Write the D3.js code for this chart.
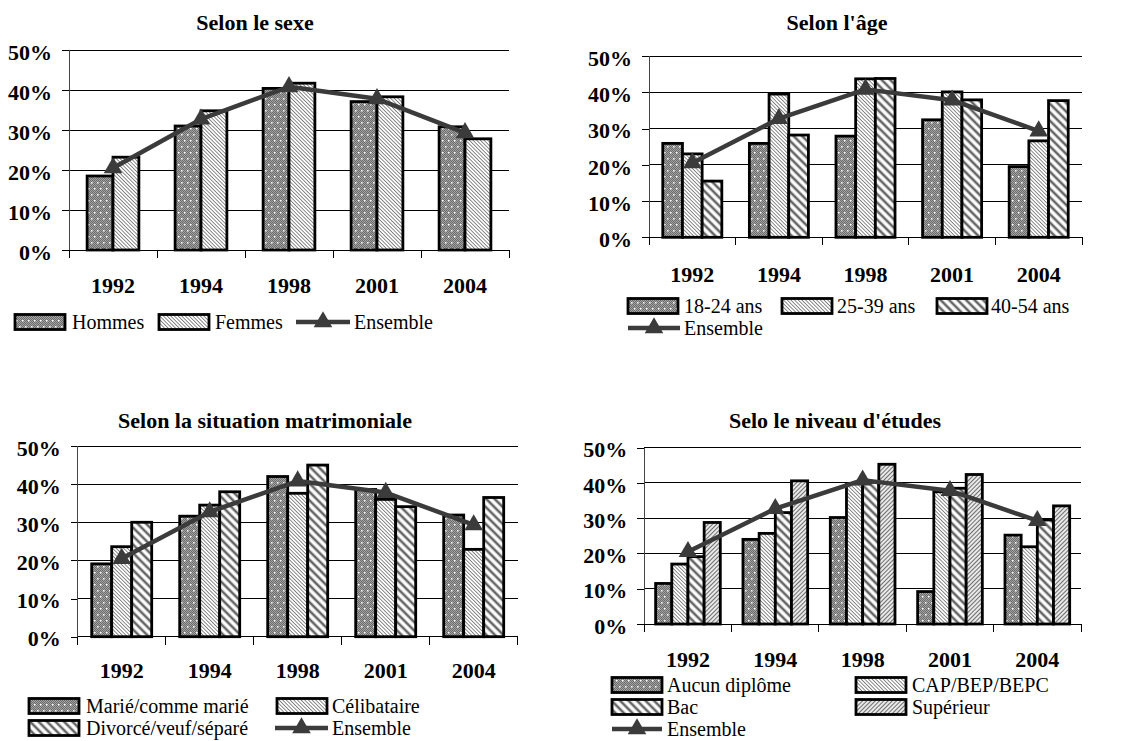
<!DOCTYPE html>
<html><head><meta charset="utf-8">
<script src="https://cdn.jsdelivr.net/npm/d3@7"></script>
<style>
body{margin:0;background:#fff}
svg{display:block;font-family:"Liberation Serif","Times New Roman","DejaVu Serif",serif}
</style>
</head><body>
<svg id="c" width="1123" height="741"></svg>
<script>
// ---------- DATA ----------
const years = ["1992", "1994", "1998", "2001", "2004"];
const yTickValues = [0, 10, 20, 30, 40, 50];

const ensemble = [20.5, 32.7, 40.8, 37.8, 29.3];

const hommes = [18.5, 31.0, 40.4, 37.1, 30.8];
const femmes = [23.2, 34.8, 41.7, 38.3, 27.8];

const age1824 = [25.9, 25.9, 27.9, 32.4, 19.5];
const age2539 = [23.0, 39.5, 43.7, 40.1, 26.6];
const age4054 = [15.5, 28.2, 43.8, 37.9, 37.7];

const marie = [19.1, 31.6, 42.0, 38.6, 31.9];
const celibataire = [23.6, 34.5, 37.6, 36.0, 22.9];
const divorce = [30.0, 38.0, 45.0, 34.1, 36.5];

const aucun = [11.5, 24.0, 30.2, 9.2, 25.2];
const capBep = [17.0, 25.7, 39.8, 37.5, 21.9];
const bac = [19.1, 31.6, 40.2, 38.5, 29.5];
const superieur = [28.8, 40.6, 45.3, 42.4, 33.5];

// ---------- SVG / PATTERNS ----------
const svg = d3.select("#c");
const defs = svg.append("defs");

// dotted grey
const pd = defs.append("pattern").attr("id", "pDots").attr("patternUnits", "userSpaceOnUse")
  .attr("width", 6).attr("height", 12);
pd.append("rect").attr("width", 6).attr("height", 12).attr("fill", "#a2a2a2");
const chk = [];
for (let yy = 0; yy < 12; yy++) for (let xx = 0; xx < 6; xx++) if ((xx + yy) % 2 === 0) chk.push([xx, yy]);
pd.selectAll("rect.k").data(chk).join("rect").attr("class", "k")
  .attr("x", d => d[0]).attr("y", d => d[1]).attr("width", 1).attr("height", 1).attr("fill", "#6c6c6c");
pd.append("rect").attr("x", 1).attr("y", 2).attr("width", 1.5).attr("height", 1.5).attr("fill", "#fff");
pd.append("rect").attr("x", 4).attr("y", 8).attr("width", 1.5).attr("height", 1.5).attr("fill", "#fff");

function stripe(id, spacing, width, color, angle) {
  const p = defs.append("pattern").attr("id", id).attr("patternUnits", "userSpaceOnUse")
    .attr("width", spacing).attr("height", 10).attr("patternTransform", `rotate(${angle})`);
  p.append("rect").attr("width", spacing).attr("height", 10).attr("fill", "#fff");
  p.append("line").attr("x1", spacing / 2).attr("x2", spacing / 2).attr("y1", 0).attr("y2", 10)
    .attr("stroke", color).attr("stroke-width", width);
}
stripe("pFine", 2.6, 0.9, "#7a7a7a", -45);   // fine "\"
stripe("pWide", 6, 2.6, "#666", -45);        // wide "\"
stripe("pSup", 3, 1.3, "#6e6e6e", 45);       // medium "/"

const FS = 22;
const LFS = 20;

// ---------- PANELS ----------
const panels = [
  {
    title: "Selon le sexe", titleX: 255, titleY: 30,
    left: 69, right: 509, top: 50, bottom: 250, labelY: 293,
    series: [{name: "Hommes", values: hommes, fill: "url(#pDots)"},
             {name: "Femmes", values: femmes, fill: "url(#pFine)"}],
    legend: [
      {kind: "box", s: 0, x: 15, y: 322, tx: 72},
      {kind: "box", s: 1, x: 159, y: 322, tx: 215},
      {kind: "line", x: 296, x2: 350, y: 322, tx: 354}
    ]
  },
  {
    title: "Selon l'âge", titleX: 837, titleY: 30,
    left: 649, right: 1082, top: 56, bottom: 237.3, labelY: 282,
    series: [{name: "18-24 ans", values: age1824, fill: "url(#pDots)"},
             {name: "25-39 ans", values: age2539, fill: "url(#pFine)"},
             {name: "40-54 ans", values: age4054, fill: "url(#pWide)"}],
    legend: [
      {kind: "box", s: 0, x: 628, y: 306, tx: 684},
      {kind: "box", s: 1, x: 782, y: 306, tx: 837},
      {kind: "box", s: 2, x: 937, y: 306, tx: 991},
      {kind: "line", x: 628, x2: 680, y: 328, tx: 684}
    ]
  },
  {
    title: "Selon la situation matrimoniale", titleX: 265, titleY: 428,
    left: 77.7, right: 517.7, top: 446, bottom: 636.7, labelY: 678,
    series: [{name: "Marié/comme marié", values: marie, fill: "url(#pDots)"},
             {name: "Célibataire", values: celibataire, fill: "url(#pFine)"},
             {name: "Divorcé/veuf/séparé", values: divorce, fill: "url(#pWide)"}],
    legend: [
      {kind: "box", s: 0, x: 29, y: 706, tx: 86},
      {kind: "box", s: 1, x: 277, y: 706, tx: 332},
      {kind: "box", s: 2, x: 29, y: 728, tx: 86},
      {kind: "line", x: 275, x2: 328, y: 728, tx: 332}
    ]
  },
  {
    title: "Selo le niveau d'études", titleX: 835, titleY: 428,
    left: 644.3, right: 1081, top: 447.7, bottom: 624, labelY: 667,
    series: [{name: "Aucun diplôme", values: aucun, fill: "url(#pDots)"},
             {name: "CAP/BEP/BEPC", values: capBep, fill: "url(#pFine)"},
             {name: "Bac", values: bac, fill: "url(#pWide)"},
             {name: "Supérieur", values: superieur, fill: "url(#pSup)"}],
    legend: [
      {kind: "box", s: 0, x: 612, y: 685, tx: 667},
      {kind: "box", s: 1, x: 856, y: 685, tx: 912},
      {kind: "box", s: 2, x: 612, y: 707, tx: 667},
      {kind: "box", s: 3, x: 856, y: 707, tx: 912},
      {kind: "line", x: 612, x2: 662, y: 729, tx: 667}
    ]
  }
];

const triangle = d3.symbol().type(d3.symbolTriangle).size(150);
const LINE_COLOR = "#3b3b3b";

function drawPanel(p) {
  const g = svg.append("g");
  const x = d3.scaleBand().domain(years).range([p.left, p.right]);
  const y = d3.scaleLinear().domain([0, 50]).range([p.bottom, p.top]);
  const n = p.series.length;
  const barW = x.bandwidth() / (n + 1.4);
  const xs = d3.scaleBand().domain(d3.range(n)).range([-n * barW / 2, n * barW / 2]);

  // title
  g.append("text").attr("x", p.titleX).attr("y", p.titleY).attr("text-anchor", "middle")
    .attr("font-weight", "bold").attr("font-size", FS).text(p.title);

  // gridlines
  g.selectAll("line.grid").data(yTickValues).join("line").attr("class", "grid")
    .attr("x1", p.left).attr("x2", p.right).attr("y1", d => y(d)).attr("y2", d => y(d))
    .attr("stroke", "#000").attr("stroke-width", 1).attr("shape-rendering", "crispEdges");

  // y axis
  const ya = g.append("g").attr("transform", `translate(${p.left},0)`)
    .call(d3.axisLeft(y).tickValues(yTickValues).tickFormat(d => d + "%").tickSize(7).tickSizeOuter(0).tickPadding(10));
  ya.select(".domain").remove();
  ya.attr("font-family", null).attr("font-size", null);
  ya.selectAll(".tick line").attr("stroke", "#000").attr("shape-rendering", "crispEdges");
  ya.selectAll(".tick text").attr("font-size", FS).attr("font-weight", "bold").attr("dy", "0.42em").attr("fill", "#000");
  g.append("line").attr("x1", p.left).attr("x2", p.left).attr("y1", p.top).attr("y2", p.bottom + 8)
    .attr("stroke", "#444").attr("stroke-width", 1).attr("shape-rendering", "crispEdges");

  // x axis boundary ticks
  const bounds = years.map(d => x(d)).concat([p.right]);
  g.selectAll("line.xt").data(bounds).join("line").attr("class", "xt")
    .attr("x1", d => d).attr("x2", d => d).attr("y1", p.bottom).attr("y2", p.bottom + 8)
    .attr("stroke", "#000").attr("stroke-width", 1).attr("shape-rendering", "crispEdges");
  // x labels
  g.selectAll("text.xl").data(years).join("text").attr("class", "xl")
    .attr("x", d => x(d) + x.bandwidth() / 2).attr("y", p.labelY).attr("text-anchor", "middle")
    .attr("font-weight", "bold").attr("font-size", FS).text(d => d);

  // bars
  p.series.forEach((s, i) => {
    g.selectAll(null).data(s.values).join("rect")
      .attr("x", (d, j) => x(years[j]) + x.bandwidth() / 2 + xs(i))
      .attr("width", barW)
      .attr("y", d => y(d)).attr("height", d => y(0) - y(d))
      .attr("fill", s.fill).attr("stroke", "#000").attr("stroke-width", 2.8);
  });

  // ensemble line
  const line = d3.line().x((d, j) => x(years[j]) + x.bandwidth() / 2).y(d => y(d));
  g.append("path").datum(ensemble).attr("d", line).attr("fill", "none")
    .attr("stroke", LINE_COLOR).attr("stroke-width", 4.5).attr("stroke-linejoin", "round");
  g.selectAll("path.tri").data(ensemble).join("path").attr("class", "tri")
    .attr("transform", (d, j) => `translate(${x(years[j]) + x.bandwidth() / 2},${y(d)})`)
    .attr("d", triangle).attr("fill", LINE_COLOR);

  // legend
  p.legend.forEach(it => {
    if (it.kind === "box") {
      g.append("rect").attr("x", it.x).attr("y", it.y - 7.5).attr("width", 50).attr("height", 15)
        .attr("fill", p.series[it.s].fill).attr("stroke", "#000").attr("stroke-width", 2.8);
      g.append("text").attr("x", it.tx).attr("y", it.y).attr("dy", "0.34em")
        .attr("font-size", LFS).text(p.series[it.s].name);
    } else {
      g.append("line").attr("x1", it.x).attr("x2", it.x2).attr("y1", it.y).attr("y2", it.y)
        .attr("stroke", LINE_COLOR).attr("stroke-width", 4.5);
      g.append("path").attr("transform", `translate(${(it.x + it.x2) / 2},${it.y})`)
        .attr("d", triangle).attr("fill", LINE_COLOR);
      g.append("text").attr("x", it.tx).attr("y", it.y).attr("dy", "0.34em")
        .attr("font-size", LFS).text("Ensemble");
    }
  });
}

panels.forEach(drawPanel);
</script>
</body></html>
